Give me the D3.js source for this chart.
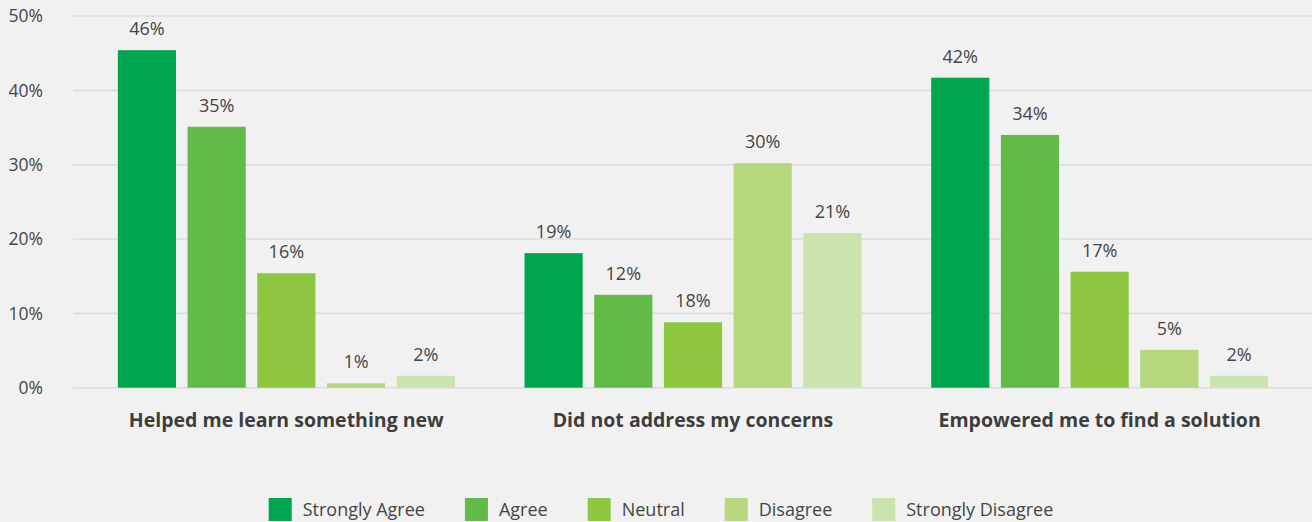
<!DOCTYPE html>
<html>
<head>
<meta charset="utf-8">
<script src="https://cdn.jsdelivr.net/npm/d3@7"></script>
<style>
  html, body { margin: 0; padding: 0; background: #f1f1f1; }
  svg { display: block; }
  text { font-family: "Open Sans", Lato, sans-serif; fill: #454545; }
</style>
</head>
<body>
<svg id="chart" width="1312" height="522"></svg>
<script>
// ---- data ----
const categories = ["Helped me learn something new", "Did not address my concerns", "Empowered me to find a solution"];
const seriesNames = ["Strongly Agree", "Agree", "Neutral", "Disagree", "Strongly Disagree"];
const seriesColors = ["#00a54f", "#62bb46", "#8dc63f", "#b6d77d", "#cbe3ae"];
// bar heights as drawn (percent)
const stronglyAgree    = [45.4, 18.1, 41.7];
const agree            = [35.1, 12.5, 34.0];
const neutral          = [15.4,  8.8, 15.6];
const disagree         = [ 0.6, 30.2,  5.1];
const stronglyDisagree = [ 1.6, 20.8,  1.6];
// labels as printed
const stronglyAgreeLabels    = ["46%", "19%", "42%"];
const agreeLabels            = ["35%", "12%", "34%"];
const neutralLabels          = ["16%", "18%", "17%"];
const disagreeLabels         = ["1%", "30%", "5%"];
const stronglyDisagreeLabels = ["2%", "21%", "2%"];
const yTicks = [0, 10, 20, 30, 40, 50];

const values = [stronglyAgree, agree, neutral, disagree, stronglyDisagree];
const labels = [stronglyAgreeLabels, agreeLabels, neutralLabels, disagreeLabels, stronglyDisagreeLabels];

// ---- layout ----
const svg = d3.select("#chart");
const gridLeft = 73, gridRight = 1312;

const y = d3.scaleLinear().domain([0, 50]).range([387.7, 16]);
const x0 = d3.scaleBand().domain(categories).range([83, 1303]).paddingInner(0).paddingOuter(0);
const x1 = d3.scaleBand().domain(seriesNames).range([0, x0.bandwidth()]).paddingInner(0.1655).paddingOuter(0.5);

// gridlines
svg.append("g").selectAll("line").data(yTicks).join("line")
  .attr("x1", gridLeft).attr("x2", gridRight)
  .attr("y1", d => y(d)).attr("y2", d => y(d))
  .attr("stroke", "#dcdcdc").attr("stroke-width", 1.6);

// y axis labels
svg.append("g").selectAll("text").data(yTicks).join("text")
  .attr("x", 43).attr("y", d => y(d))
  .attr("dy", "0.36em")
  .attr("text-anchor", "end")
  .style("font-size", "17.5px")
  .text(d => d + "%");

// bars
const rows = [];
categories.forEach((c, ci) => {
  seriesNames.forEach((s, si) => {
    rows.push({ cat: c, series: s, si, value: values[si][ci], label: labels[si][ci] });
  });
});

svg.append("g").selectAll("rect").data(rows).join("rect")
  .attr("x", d => x0(d.cat) + x1(d.series))
  .attr("width", x1.bandwidth())
  .attr("y", d => y(d.value))
  .attr("height", d => y(0) - y(d.value))
  .attr("fill", d => seriesColors[d.si]);

svg.append("g").selectAll("text").data(rows).join("text")
  .attr("x", d => x0(d.cat) + x1(d.series) + x1.bandwidth() / 2)
  .attr("y", d => y(d.value) - 15)
  .attr("text-anchor", "middle")
  .style("font-size", "18px")
  .text(d => d.label);

// category labels
svg.append("g").selectAll("text").data(categories).join("text")
  .attr("x", d => x0(d) + x0.bandwidth() / 2)
  .attr("y", 420)
  .attr("dy", "0.36em")
  .attr("text-anchor", "middle")
  .style("font-size", "19.5px")
  .style("font-weight", "bold")
  .style("fill", "#3d3d3d")
  .text(d => d);

// legend
const legend = svg.append("g");
const items = legend.selectAll("g").data(seriesNames).join("g");
items.append("rect").attr("width", 23).attr("height", 23).attr("y", 498)
  .attr("fill", (d, i) => seriesColors[i]);
items.append("text").attr("x", 34).attr("y", 509.5).attr("dy", "0.36em")
  .style("font-size", "18px").text(d => d);
const gap = 40;
let widths = [];
items.each(function() { widths.push(34 + this.querySelector("text").getComputedTextLength()); });
const total = d3.sum(widths) + gap * (widths.length - 1);
let cx = 661 - total / 2;
items.attr("transform", (d, i) => {
  const t = `translate(${cx},0)`;
  cx += widths[i] + gap;
  return t;
});
</script>
</body>
</html>
